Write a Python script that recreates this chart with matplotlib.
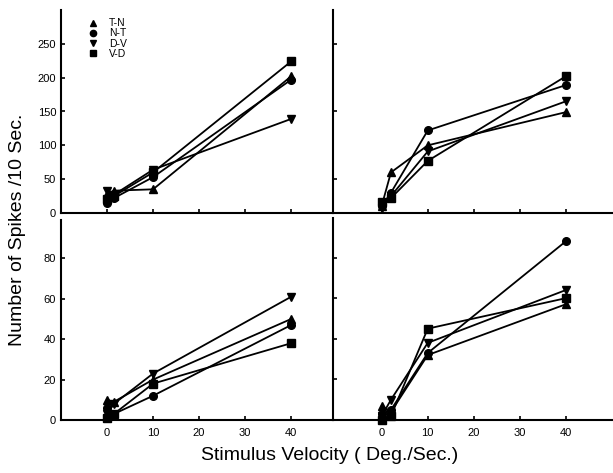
import numpy as np
import matplotlib
matplotlib.use("Agg")
import matplotlib.pyplot as plt
from matplotlib.lines import Line2D

plt.rcParams['font.family'] = ['Liberation Sans', 'DejaVu Sans']

# stimulus velocities (deg/sec) for left and right columns
vel_left = [0, 1.5, 10, 40]
vel_right = [0, 2, 10, 40]

directions = ['T-N', 'N-T', 'D-V', 'V-D']
markers = ['^', 'o', 'v', 's']

# spikes / 10 sec, one list per direction
top_left = {
    'T-N': [28, 33, 35, 202],
    'N-T': [15, 22, 53, 197],
    'D-V': [32, 27, 64, 139],
    'V-D': [20, 25, 60, 224],
}
top_right = {
    'T-N': [11, 60, 100, 149],
    'N-T': [10, 30, 122, 189],
    'D-V': [8, 25, 91, 165],
    'V-D': [16, 22, 77, 202],
}
bottom_left = {
    'T-N': [10, 9, 20, 50],
    'N-T': [6, 3, 12, 47],
    'D-V': [3, 8, 23, 61],
    'V-D': [1, 3, 18, 38],
}
bottom_right = {
    'T-N': [7, 4, 32, 57],
    'N-T': [3, 5, 33, 88],
    'D-V': [2, 10, 38, 64],
    'V-D': [0, 2, 45, 60],
}

W, H = 613, 473
fig = plt.figure(figsize=(W / 100, H / 100), dpi=100)


def make_ax(x0, x1, ytop, ybot):
    return fig.add_axes([x0 / W, 1 - ybot / H, (x1 - x0) / W, (ybot - ytop) / H])


ax_tl = make_ax(61, 333, 10, 213)
ax_tr = make_ax(333, 615, 10, 213)
ax_bl = make_ax(61, 333, 220, 420)
ax_br = make_ax(333, 615, 218, 420)

panels = [
    (ax_tl, vel_left, top_left),
    (ax_tr, vel_right, top_right),
    (ax_bl, vel_left, bottom_left),
    (ax_br, vel_right, bottom_right),
]

for ax, vel, data in panels:
    for d, m in zip(directions, markers):
        ax.plot(vel, data[d], color='black', lw=1.3, marker=m, ms=5.5,
                clip_on=False, zorder=3)
    for s in ['top', 'right']:
        ax.spines[s].set_visible(False)
    for s in ['left', 'bottom']:
        ax.spines[s].set_linewidth(1.5)
    ax.tick_params(direction='in', length=3, width=1.2, labelsize=8)
    ax.tick_params(axis='x', pad=6)
    ax.set_xticks([0, 10, 20, 30, 40])

ax_tl.set_xlim(-10, 49.1)
ax_bl.set_xlim(-10, 49.1)
ax_tr.set_xlim(-10.6, 50.7)
ax_br.set_xlim(-10.6, 50.7)

ax_tl.set_ylim(0, 300)
ax_tr.set_ylim(0, 300)
ax_bl.set_ylim(0, 99)
ax_br.set_ylim(0, 99.5)

ax_tl.set_yticks([0, 50, 100, 150, 200, 250])
ax_tr.set_yticks([50, 150, 250])
ax_bl.set_yticks([0, 20, 40, 60, 80])
ax_br.set_yticks([20, 40, 60, 80])

ax_tl.tick_params(labelbottom=False)
ax_tr.tick_params(labelbottom=False, labelleft=False)
ax_br.tick_params(labelleft=False)

handles = [Line2D([], [], color='black', marker=m, ls='none', ms=4.5) for m in markers]
ax_tl.legend(handles, directions, loc='upper left', bbox_to_anchor=(0.08, 0.985),
             frameon=False, fontsize=7.5, handlelength=1.0, handletextpad=1.0,
             labelspacing=0.02, borderpad=0)

fig.text(18 / W, 1 - 230 / H, 'Number of Spikes /10 Sec.', rotation=90,
         ha='center', va='center', fontsize=14)
fig.text(330 / W, 1 - 455 / H, 'Stimulus Velocity ( Deg./Sec.)',
         ha='center', va='center', fontsize=14)

fig.savefig('out.png', dpi=100)
